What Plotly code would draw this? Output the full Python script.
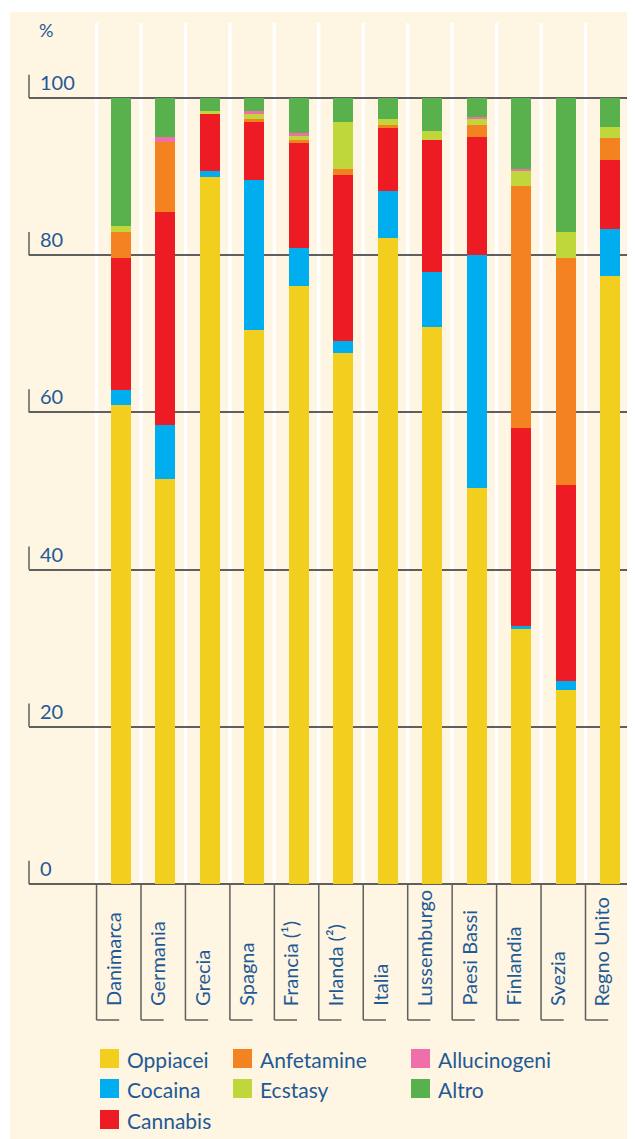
import plotly.graph_objects as go

# ---------------- data ----------------
countries = ["Danimarca", "Germania", "Grecia", "Spagna", "Francia (¹)", "Irlanda (²)",
             "Italia", "Lussemburgo", "Paesi Bassi", "Finlandia", "Svezia", "Regno Unito"]
oppiacei     = [60.9, 51.5, 89.95, 70.5, 76.1, 67.55, 82.2, 70.9, 50.4, 32.4, 24.7, 77.35]
cocaina      = [2.0, 6.9, 0.75, 19.1, 4.8, 1.5, 6.0, 7.0, 29.6, 0.4, 1.1, 6.0]
cannabis     = [16.8, 27.1, 7.25, 7.3, 13.4, 21.2, 8.0, 16.8, 15.0, 25.2, 25.0, 8.8]
anfetamine   = [3.25, 8.9, 0.0, 0.4, 0.3, 0.75, 0.4, 0.0, 1.6, 30.8, 28.8, 2.7]
ecstasy      = [0.75, 0.0, 0.35, 0.65, 0.6, 5.9, 0.7, 1.1, 0.7, 1.9, 3.3, 1.4]
allucinogeni = [0.0, 0.6, 0.0, 0.35, 0.4, 0.0, 0.0, 0.0, 0.3, 0.3, 0.0, 0.0]
altro        = [16.3, 5.0, 1.7, 1.7, 4.4, 3.1, 2.7, 4.2, 2.4, 9.0, 17.1, 3.75]

series_names = ["Oppiacei", "Cocaina", "Cannabis", "Anfetamine", "Ecstasy", "Allucinogeni", "Altro"]
series_values = [oppiacei, cocaina, cannabis, anfetamine, ecstasy, allucinogeni, altro]
tick_vals = [0, 20, 40, 60, 80, 100]
y_unit = "%"

# ---------------- style ----------------
colors = ["#F2CF1F", "#00AEEF", "#ED1C24", "#F58220", "#BFD73B", "#F06EAA", "#58B14D"]
CREAM = "#FEF5E2"
TEXT = "#1E5A96"
LINE = "#5F5F5F"
FONT = "Lato"

OFF = 8  # page body margin of the browser
W, H = 635 - OFF, 1139 - OFF
ML = 29 - OFF
MT = 12 - OFF
PH = 872
MB = H - MT - PH
MR = 0
PW = W - ML - MR
YMAX = PH / 7.86
X0PIX = 121.0 - OFF
XSTEP = 44.45
XMIN = -(X0PIX - ML) / XSTEP
XMAX = (W - X0PIX) / XSTEP
SEP = -0.55


def px_x(p):
    """reference pixel x -> paper"""
    return (p - OFF - ML) / PW


def px_y(p):
    """reference pixel y -> paper"""
    return (MT + PH - (p - OFF)) / PH


xs = list(range(len(countries)))

fig = go.Figure()
for name, vals, col in zip(series_names, series_values, colors):
    fig.add_trace(go.Bar(x=xs, y=vals, name=name, marker=dict(color=col, line=dict(width=0)),
                         width=0.45, showlegend=False))

shapes = []
annotations = []

# white vertical separators in plot, category boxes under axis
for i in xs:
    xb = i + SEP
    shapes.append(dict(type="line", xref="x", yref="y", x0=xb, x1=xb, y0=0,
                       y1=(884 - 23) / 7.86, line=dict(color="white", width=3.5), layer="below"))
    shapes.append(dict(type="line", xref="x", yref="paper", x0=xb, x1=xb, y0=0,
                       y1=px_y(1020), line=dict(color=LINE, width=1.5)))
    shapes.append(dict(type="line", xref="x", yref="paper", x0=xb, x1=xb + 0.51, y0=px_y(1020),
                       y1=px_y(1020), line=dict(color=LINE, width=1.5)))
    annotations.append(dict(x=i, xref="x", y=px_y(1008), yref="paper", text=countries[i],
                            textangle=-90, xanchor="center", yanchor="bottom", showarrow=False,
                            xshift=-8, font=dict(family=FONT, size=20, color=TEXT)))

# y tick labels and small ticks
for v in tick_vals:
    shapes.append(dict(type="line", xref="paper", yref="y", x0=0, x1=0, y0=v, y1=v + 2.95,
                       line=dict(color=LINE, width=1.5)))
    annotations.append(dict(x=0, xref="paper", y=v, yref="y", text=str(v), xanchor="left",
                            yanchor="bottom", xshift=9, yshift=2, showarrow=False,
                            font=dict(family=FONT, size=20, color=TEXT)))
annotations.append(dict(x=0, xref="paper", y=px_y(43), yref="paper", text=y_unit, xanchor="left",
                        yanchor="bottom", xshift=8, showarrow=False,
                        font=dict(family=FONT, size=18, color=TEXT)))

# white page border (top and left)
shapes.append(dict(type="rect", xref="paper", yref="paper", x0=px_x(0), x1=px_x(640),
                   y0=px_y(12), y1=px_y(0), fillcolor="white", line=dict(width=0)))
shapes.append(dict(type="rect", xref="paper", yref="paper", x0=px_x(0), x1=px_x(10),
                   y0=px_y(1145), y1=px_y(0), fillcolor="white", line=dict(width=0)))

# custom legend (column-major, 3 rows)
leg_cols = [100, 233, 411]
leg_rows = [1049, 1079, 1110]
leg_pos = [(0, 0), (0, 1), (0, 2), (1, 0), (1, 1), (2, 0), (2, 1)]
for name, col, (c, r) in zip(series_names, colors, leg_pos):
    x0 = leg_cols[c]
    y0 = leg_rows[r]
    shapes.append(dict(type="rect", xref="paper", yref="paper", x0=px_x(x0), x1=px_x(x0 + 19),
                       y0=px_y(y0 + 19), y1=px_y(y0), fillcolor=col, line=dict(width=0)))
    annotations.append(dict(x=px_x(x0 + 25), xref="paper", y=px_y(y0 + 10), yref="paper", text=name,
                            xanchor="left", yanchor="middle", showarrow=False,
                            font=dict(family=FONT, size=21, color=TEXT)))

fig.update_layout(
    width=W, height=H,
    margin=dict(l=ML, r=MR, t=MT, b=MB, pad=0),
    paper_bgcolor=CREAM, plot_bgcolor=CREAM,
    barmode="stack",
    showlegend=False,
    xaxis=dict(range=[XMIN, XMAX], showgrid=False, zeroline=False, showticklabels=False,
               showline=False, ticks=""),
    yaxis=dict(range=[0, YMAX], tickvals=tick_vals, showticklabels=False, showgrid=True,
               gridcolor=LINE, gridwidth=2, zeroline=True, zerolinecolor=LINE, zerolinewidth=2,
               showline=False, ticks=""),
    shapes=shapes,
    annotations=annotations,
    font=dict(family=FONT, color=TEXT),
)

fig.write_html("out.html")
